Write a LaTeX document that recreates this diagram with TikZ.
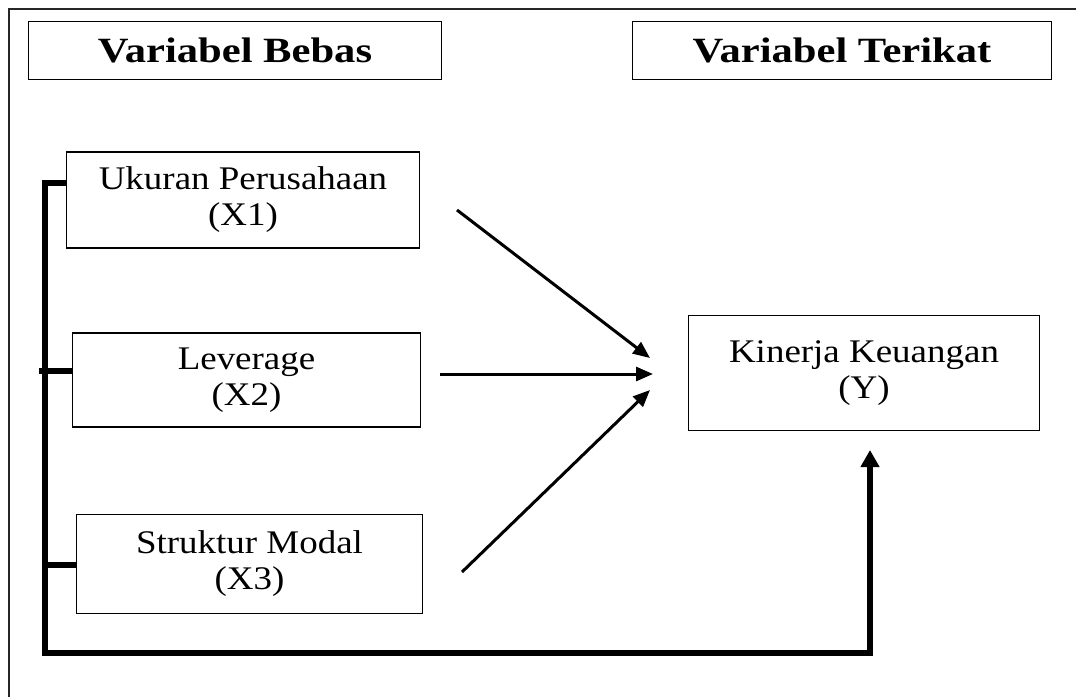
\documentclass[tikz,border=0pt]{standalone}
\usepackage{fontspec}
\setmainfont{Liberation Serif}
\newfontfamily\bodyfont[FakeStretch=1.12]{Liberation Serif}
\newfontfamily\headfont[FakeStretch=1.2]{Liberation Serif}
\usetikzlibrary{arrows.meta}
\begin{document}
\begin{tikzpicture}[x=1pt,y=-1pt,
  hdr/.style={draw,line width=1.8pt,inner sep=0pt,font=\headfont\fontsize{35.5}{38}\selectfont\bfseries},
  var/.style={draw,line width=1.7pt,inner sep=0pt,align=center,font=\bodyfont\fontsize{33}{36}\selectfont},
  rel/.style={line width=3pt,-{Triangle[length=17pt,width=14pt]}},
  brk/.style={line width=6pt}]
\useasboundingbox (0,0) rectangle (1076,697);
\draw[line width=1.6pt,black!85] (9,697) -- (9,9) -- (1076,9);
\node[hdr,minimum width=413pt,minimum height=58pt] (h1) at (235,50.5) {Variabel Bebas};
\node[hdr,minimum width=419pt,minimum height=58pt] (h2) at (842,50.5) {Variabel Terikat};
\node[var,minimum width=353pt,minimum height=96pt] (x1) at (243,200) {Ukuran Perusahaan\\(X1)};
\node[var,minimum width=348pt,minimum height=94pt] (x2) at (246.5,380) {Leverage\\(X2)};
\node[var,minimum width=346pt,minimum height=99pt] (x3) at (249.5,564) {Struktur Modal\\(X3)};
\node[var,minimum width=351pt,minimum height=115pt] (y) at (864,373) {Kinerja Keuangan\\(Y)};
\coordinate (s1) at (457,210); \coordinate (e1) at (650,358);
\coordinate (s2) at (440,374); \coordinate (e2) at (653,374);
\coordinate (s3) at (462,572); \coordinate (e3) at (650,390);
\draw[rel] (s1) -- (e1);
\draw[rel] (s2) -- (e2);
\draw[rel] (s3) -- (e3);
\coordinate (t1) at (42,183); \coordinate (u1) at (x1.west |- t1);
\coordinate (t2) at (39,371); \coordinate (u2) at (x2.west |- t2);
\coordinate (t3) at (45,565); \coordinate (u3) at (x3.west |- t3);
\draw[brk] (t1) -- (u1);
\draw[brk] (t2) -- (u2);
\draw[brk] (t3) -- (u3);
\coordinate (b0) at (45,181);
\coordinate (b1) at (45,653);
\coordinate (b2) at (870,653);
\coordinate (yt) at (870,450);
\draw[brk,-{Triangle[length=17pt,width=18pt]}] (b0) -- (b1) -- (b2) -- (yt);
\end{tikzpicture}
\end{document}
